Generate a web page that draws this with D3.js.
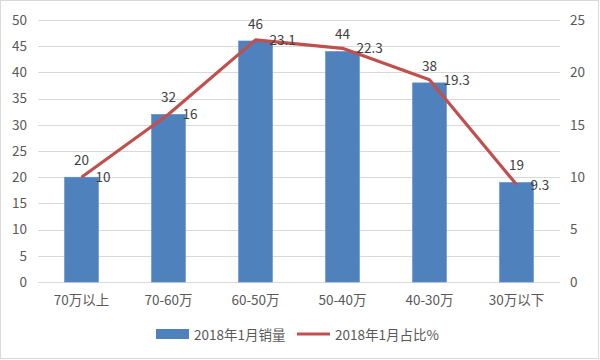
<!DOCTYPE html>
<html><head><meta charset="utf-8">
<script src="https://cdn.jsdelivr.net/npm/d3@7"></script>
<style>body{margin:0;background:#fff}svg{display:block}</style>
</head><body>
<svg id="c" width="600" height="360"></svg>
<script>
const categories = ["70万以上","70-60万","60-50万","50-40万","40-30万","30万以下"];
const sales = [20,32,46,44,38,19];
const share = [10,16,23.1,22.3,19.3,9.3];
const shareLabels = ["10","16","23.1","22.3","19.3","9.3"];
const leftTicks = [0,5,10,15,20,25,30,35,40,45,50];
const rightTicks = [0,5,10,15,20,25];
const seriesNames = ["2018年1月销量","2018年1月占比%"];

const svg = d3.select("#c");
const font = "'Noto Sans CJK SC','Microsoft YaHei',sans-serif";
const textColor = "#595959";
const fs = 13.5;
const W=600,H=360;
const m = {l:38, r:40, t:20, b:78};
const x = d3.scaleBand().domain(categories).range([m.l, W-m.r]).paddingInner(0.61).paddingOuter(0.305);
const y = d3.scaleLinear().domain([0,50]).range([H-m.b, m.t]);
const y2 = d3.scaleLinear().domain([0,25]).range([H-m.b, m.t]);

svg.append("rect").attr("x",0.5).attr("y",0.5).attr("width",W-2).attr("height",H-2).attr("fill","#fff").attr("stroke","#d9d9d9");

// gridlines
svg.append("g").selectAll("line").data(leftTicks).join("line")
  .attr("x1",m.l).attr("x2",W-m.r).attr("y1",d=>Math.round(y(d))+0.5).attr("y2",d=>Math.round(y(d))+0.5)
  .attr("stroke","#d9d9d9").attr("stroke-width",1);

// left axis
const ga = svg.append("g").attr("transform",`translate(${m.l-9},0)`)
  .call(d3.axisLeft(y).tickValues(leftTicks).tickSize(0).tickPadding(2));
ga.select(".domain").remove();
ga.selectAll("text").attr("font-family",font).attr("font-size",fs).attr("fill",textColor);

const gr = svg.append("g").attr("transform",`translate(${W-m.r+8},0)`)
  .call(d3.axisRight(y2).tickValues(rightTicks).tickSize(0).tickPadding(2));
gr.select(".domain").remove();
gr.selectAll("text").attr("font-family",font).attr("font-size",fs).attr("fill",textColor);

const gx = svg.append("g").attr("transform",`translate(0,${H-m.b})`)
  .call(d3.axisBottom(x).tickSize(0).tickPadding(13));
gx.select(".domain").remove();
gx.selectAll("text").attr("font-family",font).attr("font-size",fs).attr("fill",textColor);

// bars
svg.append("g").selectAll("rect").data(sales).join("rect")
  .attr("x",(d,i)=>x(categories[i])).attr("width",x.bandwidth())
  .attr("y",d=>y(d)).attr("height",d=>y(0)-y(d))
  .attr("fill","#4F81BD").attr("stroke","#5b8fcc").attr("stroke-width",0.6);

// line
const line = d3.line().x((d,i)=>x(categories[i])+x.bandwidth()/2).y(d=>y2(d));
svg.append("path").datum(share).attr("d",line).attr("fill","none")
  .attr("stroke","#C0504D").attr("stroke-width",3.2).attr("stroke-linejoin","round");

// bar labels
svg.append("g").selectAll("text").data(sales).join("text")
  .attr("x",(d,i)=>x(categories[i])+x.bandwidth()/2).attr("y",d=>y(d)-12)
  .attr("text-anchor","middle").attr("font-family",font).attr("font-size",fs).attr("fill","#404040")
  .text(d=>d);

// line labels
svg.append("g").selectAll("text").data(share).join("text")
  .attr("x",(d,i)=>x(categories[i])+x.bandwidth()/2+14).attr("y",d=>y2(d)+5)
  .attr("font-family",font).attr("font-size",fs).attr("fill","#404040")
  .text((d,i)=>shareLabels[i]);

// legend
const lg = svg.append("g").attr("font-family",font).attr("font-size",fs).attr("fill",textColor);
lg.append("rect").attr("x",156).attr("y",329).attr("width",33).attr("height",10).attr("fill","#4F81BD");
lg.append("text").attr("x",194).attr("y",339.5).text(seriesNames[0]);
lg.append("line").attr("x1",297).attr("x2",330).attr("y1",334).attr("y2",334).attr("stroke","#C0504D").attr("stroke-width",3);
lg.append("text").attr("x",335).attr("y",339.5).text(seriesNames[1]);
</script>
</body></html>
